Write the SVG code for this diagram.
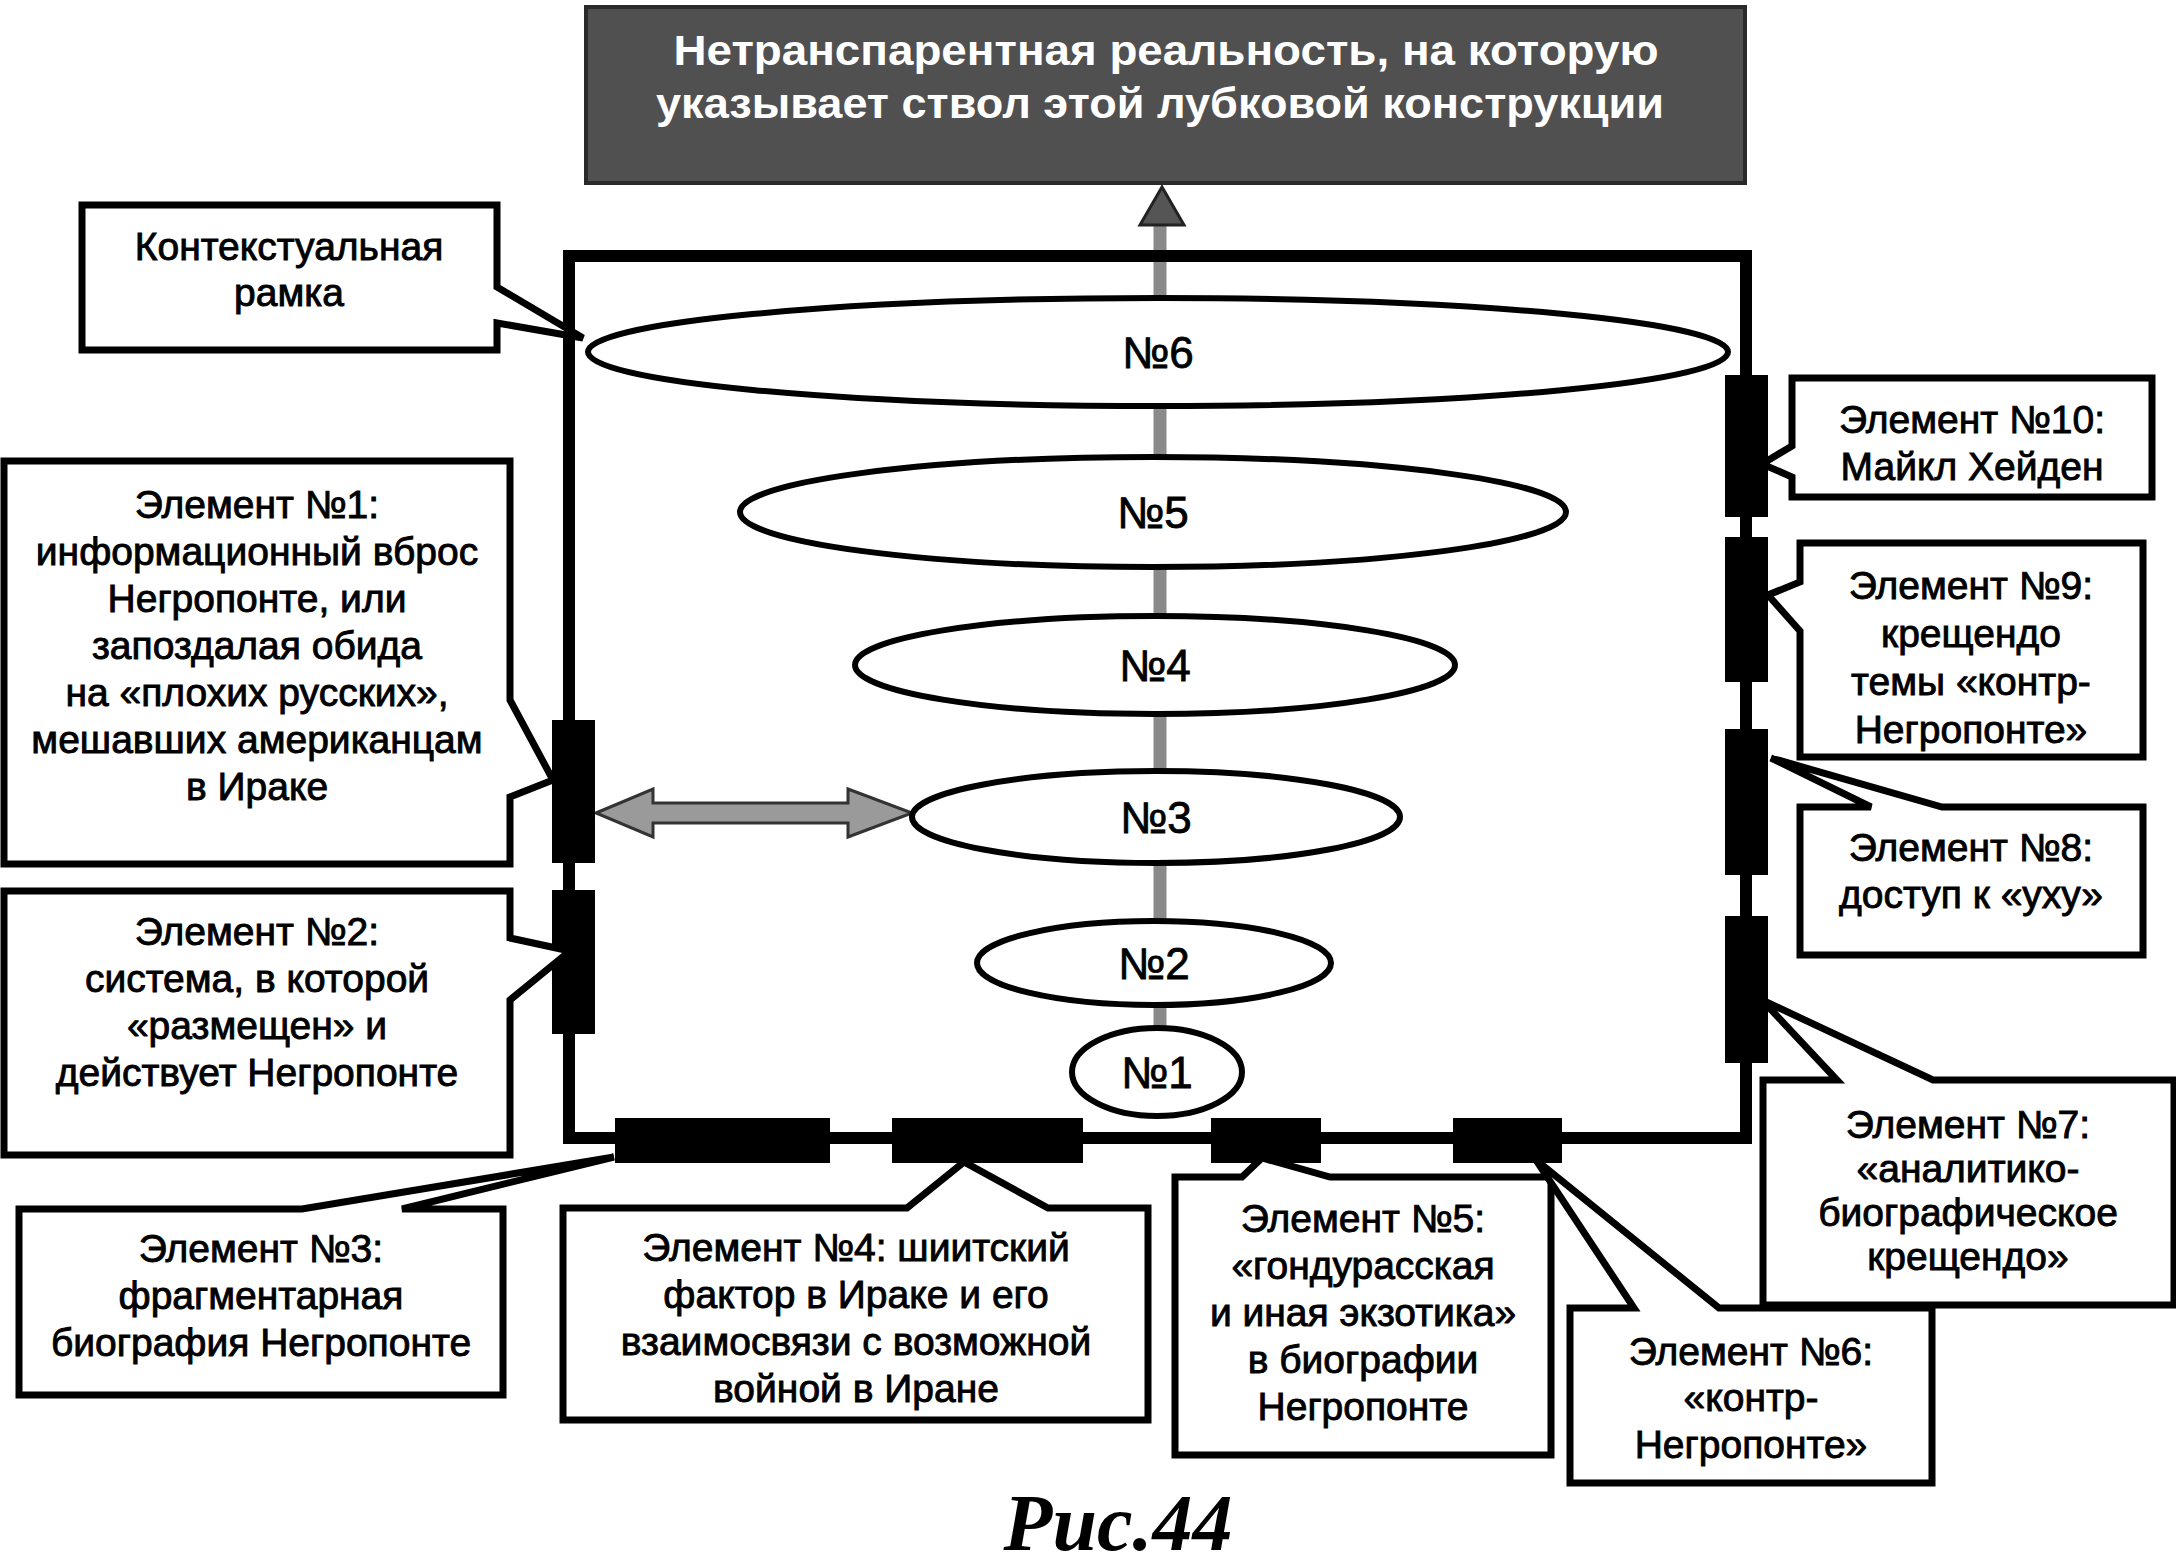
<svg xmlns="http://www.w3.org/2000/svg" width="2176" height="1567" viewBox="0 0 2176 1567">
<style>
.box{fill:#fff;stroke:#000;stroke-width:7;stroke-linejoin:miter}
.t{font-family:"Liberation Sans",Arial,sans-serif;font-size:39px;fill:#000;stroke:#000;stroke-width:0.9;text-anchor:middle}
.lbl{font-family:"Liberation Sans",Arial,sans-serif;font-size:44px;fill:#000;stroke:#000;stroke-width:0.8;text-anchor:middle}
.ell{fill:#fff;stroke:#000;stroke-width:6}
.bar{fill:#000}
.title{font-family:"Liberation Sans",Arial,sans-serif;font-size:42px;font-weight:bold;fill:#fff;text-anchor:middle}
</style>
<rect width="2176" height="1567" fill="#fff"/>
<g id="top">
<rect x="586" y="7" width="1159" height="176" fill="#505050" stroke="#2a2a2a" stroke-width="4"/>
<text class="title" x="1166" y="65" textLength="985" lengthAdjust="spacingAndGlyphs">Нетранспарентная реальность, на которую</text>
<text class="title" x="1160" y="118" textLength="1008" lengthAdjust="spacingAndGlyphs">указывает ствол этой лубковой конструкции</text>
</g>
<g id="connectors">
<line x1="1160" y1="222" x2="1160" y2="1030" stroke="#8a8a8a" stroke-width="13"/>
<polygon points="1162,187 1184,225 1140,225" fill="#555" stroke="#222" stroke-width="3"/>
<polygon points="596,813 653,789 653,803 848,803 848,789 912,813 848,837 848,823 653,823 653,837" fill="#9a9a9a" stroke="#333" stroke-width="3" stroke-linejoin="miter"/>
</g>
<g id="frame">
<rect x="569" y="256" width="1177" height="882" fill="none" stroke="#000" stroke-width="12"/>
</g>
<g id="stem-nodes">
<g id="n6"><ellipse class="ell" cx="1158" cy="352" rx="570" ry="54"/><text class="lbl" x="1158" y="368">№6</text></g>
<g id="n5"><ellipse class="ell" cx="1153" cy="512" rx="413" ry="55"/><text class="lbl" x="1153" y="528">№5</text></g>
<g id="n4"><ellipse class="ell" cx="1155" cy="665" rx="300" ry="49"/><text class="lbl" x="1155" y="681">№4</text></g>
<g id="n3"><ellipse class="ell" cx="1156" cy="817" rx="244" ry="46"/><text class="lbl" x="1156" y="833">№3</text></g>
<g id="n2"><ellipse class="ell" cx="1154" cy="963" rx="177" ry="42"/><text class="lbl" x="1154" y="979">№2</text></g>
<g id="n1"><ellipse class="ell" cx="1157" cy="1072" rx="85" ry="44"/><text class="lbl" x="1157" y="1088">№1</text></g>
</g>
<g id="bars">
<rect class="bar" x="552" y="720" width="43" height="143"/>
<rect class="bar" x="552" y="890" width="43" height="144"/>
<rect class="bar" x="1725" y="375" width="43" height="142"/>
<rect class="bar" x="1725" y="537" width="43" height="145"/>
<rect class="bar" x="1725" y="729" width="43" height="146"/>
<rect class="bar" x="1725" y="916" width="43" height="147"/>
<rect class="bar" x="615" y="1118" width="215" height="45"/>
<rect class="bar" x="892" y="1118" width="191" height="45"/>
<rect class="bar" x="1211" y="1118" width="110" height="45"/>
<rect class="bar" x="1453" y="1118" width="109" height="45"/>
</g>
<g id="ctx">
<path class="box" d="M82,205 H497 V287 L583,338 L497,323 V350 H82 Z"/>
<text class="t" x="289" y="260">Контекстуальная</text>
<text class="t" x="289" y="306">рамка</text>
</g>
<g id="e1">
<path class="box" d="M4,461 H510 V700 L553,780 L510,797 V864 H4 Z"/>
<text class="t" x="257" y="518">Элемент №1:</text>
<text class="t" x="257" y="565">информационный вброс</text>
<text class="t" x="257" y="612">Негропонте, или</text>
<text class="t" x="257" y="659">запоздалая обида</text>
<text class="t" x="257" y="706">на «плохих русских»,</text>
<text class="t" x="257" y="753">мешавших американцам</text>
<text class="t" x="257" y="800">в Ираке</text>
</g>
<g id="e2">
<path class="box" d="M4,891 H510 V938 L570,951 L510,1000 V1155 H4 Z"/>
<text class="t" x="257" y="945">Элемент №2:</text>
<text class="t" x="257" y="992">система, в которой</text>
<text class="t" x="257" y="1039">«размещен» и</text>
<text class="t" x="257" y="1086">действует Негропонте</text>
</g>
<g id="e3">
<path class="box" d="M19,1209 H302 L614,1157 L402,1209 H503 V1395 H19 Z"/>
<text class="t" x="261" y="1262">Элемент №3:</text>
<text class="t" x="261" y="1309">фрагментарная</text>
<text class="t" x="261" y="1356">биография Негропонте</text>
</g>
<g id="e4">
<path class="box" d="M563,1208 H907 L964,1162 L1048,1208 H1148 V1420 H563 Z"/>
<text class="t" x="856" y="1261">Элемент №4: шиитский</text>
<text class="t" x="856" y="1308">фактор в Ираке и его</text>
<text class="t" x="856" y="1355">взаимосвязи с возможной</text>
<text class="t" x="856" y="1402">войной в Иране</text>
</g>
<g id="e5">
<path class="box" d="M1175,1177 H1242 L1262,1158 L1330,1177 H1551 V1455 H1175 Z"/>
<text class="t" x="1363" y="1232">Элемент №5:</text>
<text class="t" x="1363" y="1279">«гондурасская</text>
<text class="t" x="1363" y="1326">и иная экзотика»</text>
<text class="t" x="1363" y="1373">в биографии</text>
<text class="t" x="1363" y="1420">Негропонте</text>
</g>
<g id="e6">
<path class="box" d="M1570,1308 H1634 L1536,1160 L1719,1308 H1932 V1483 H1570 Z"/>
<text class="t" x="1751" y="1365">Элемент №6:</text>
<text class="t" x="1751" y="1411">«контр-</text>
<text class="t" x="1751" y="1458">Негропонте»</text>
</g>
<g id="e7">
<path class="box" d="M1763,1080 H1837 L1762,1000 L1933,1080 H2174 V1305 H1763 Z"/>
<text class="t" x="1968" y="1138">Элемент №7:</text>
<text class="t" x="1968" y="1182">«аналитико-</text>
<text class="t" x="1968" y="1226">биографическое</text>
<text class="t" x="1968" y="1270">крещендо»</text>
</g>
<g id="e8">
<path class="box" d="M1800,807 H1871 L1771,758 L1942,807 H2143 V955 H1800 Z"/>
<text class="t" x="1971" y="861">Элемент №8:</text>
<text class="t" x="1971" y="908">доступ к «уху»</text>
</g>
<g id="e9">
<path class="box" d="M1800,543 H2143 V757 H1800 V631 L1768,595 L1800,582 Z"/>
<text class="t" x="1971" y="599">Элемент №9:</text>
<text class="t" x="1971" y="647">крещендо</text>
<text class="t" x="1971" y="695">темы «контр-</text>
<text class="t" x="1971" y="743">Негропонте»</text>
</g>
<g id="e10">
<path class="box" d="M1792,378 H2152 V497 H1792 V477 L1762,464 L1792,446 Z"/>
<text class="t" x="1972" y="433">Элемент №10:</text>
<text class="t" x="1972" y="480">Майкл Хейден</text>
</g>
<text x="1118" y="1550" font-family="'Liberation Serif','Times New Roman',serif" font-size="80" font-style="italic" font-weight="bold" text-anchor="middle">Рис.44</text>
</svg>
